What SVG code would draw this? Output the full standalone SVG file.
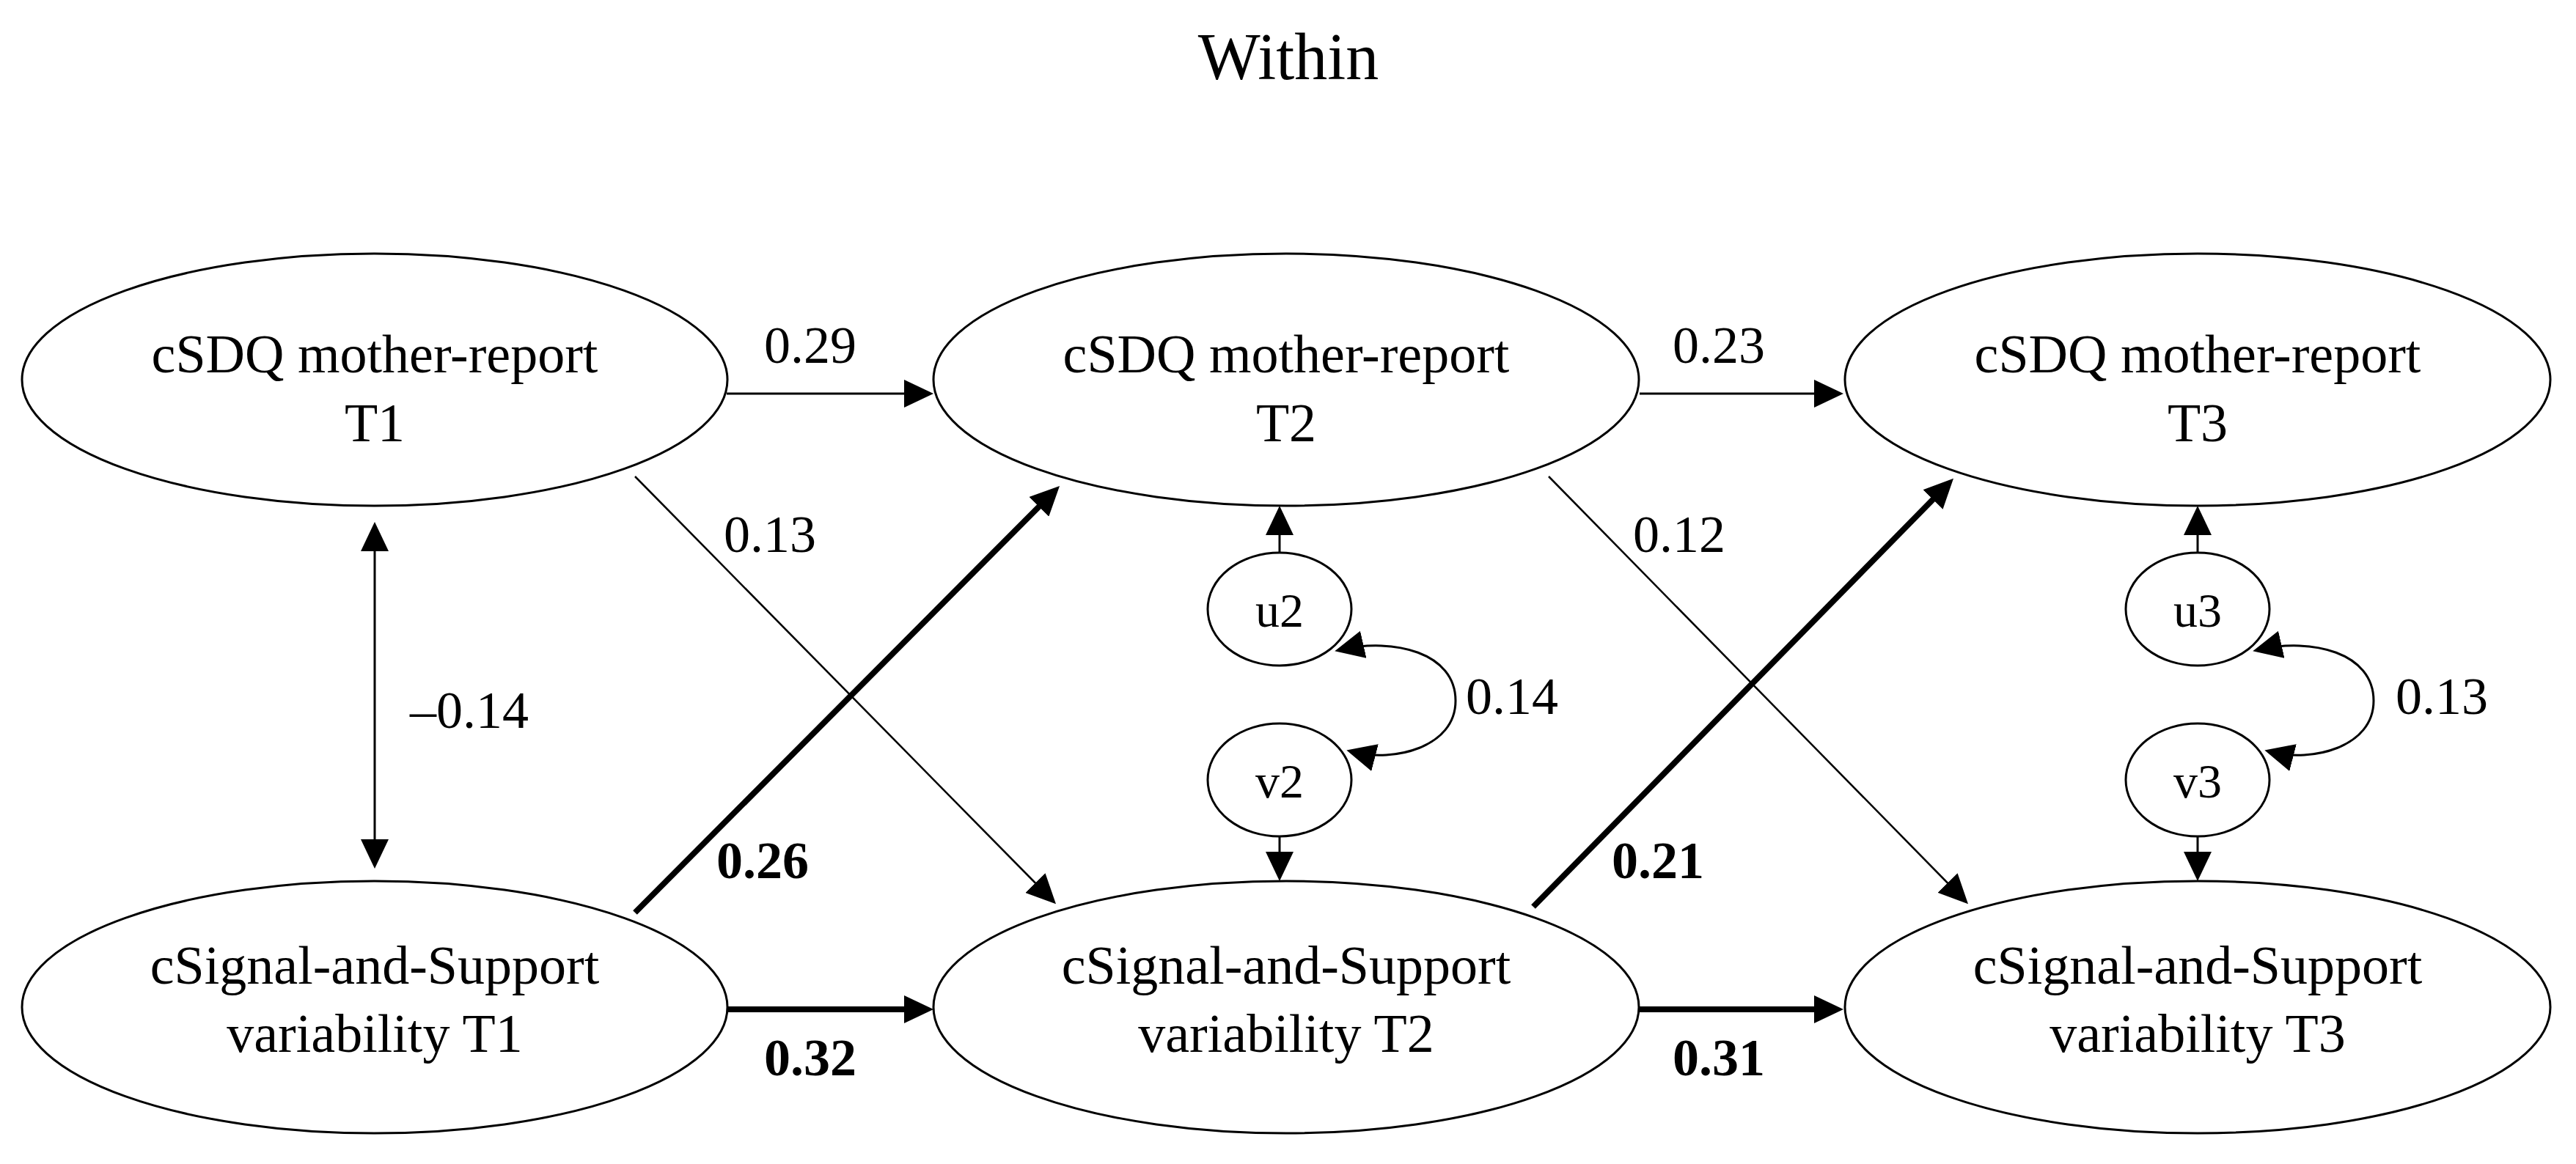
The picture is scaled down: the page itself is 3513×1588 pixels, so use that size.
<svg xmlns="http://www.w3.org/2000/svg" width="3513" height="1588" viewBox="0 0 3513 1588">
<style>
.node{fill:#fff;stroke:#000;stroke-width:3}
.t{font-family:"Liberation Serif","Times New Roman",serif;font-size:74px;text-anchor:middle;fill:#000}
.s{font-family:"Liberation Serif","Times New Roman",serif;font-size:66px;text-anchor:middle;fill:#000}
.lab{font-family:"Liberation Serif","Times New Roman",serif;font-size:72px;text-anchor:middle;fill:#000}
.b{font-weight:bold}
.thin{fill:none;stroke:#000;stroke-width:3}
.thick{fill:none;stroke:#000;stroke-width:8}
</style>
<defs>
<marker id="ah" markerUnits="userSpaceOnUse" viewBox="0 0 40 38" markerWidth="40" markerHeight="38" refX="30" refY="19" orient="auto-start-reverse">
<path d="M0,0 L40,19 L0,38 Z" fill="#000"/>
</marker>
</defs>
<rect width="3513" height="1588" fill="#fff"/>
<text class="t" x="1757" y="108" style="font-size:90px">Within</text>

<g id="connectors">
<path class="thin" d="M991,537 L1263,537" marker-end="url(#ah)"/>
<path class="thin" d="M2236,537 L2504,537" marker-end="url(#ah)"/>
<path class="thick" d="M991,1377 L1263,1377" marker-end="url(#ah)"/>
<path class="thick" d="M2236,1377 L2504,1377" marker-end="url(#ah)"/>
<path class="thin" d="M866,650 L1433,1226" marker-end="url(#ah)" style="stroke-width:2.5"/>
<path class="thin" d="M2112,650 L2677,1226" marker-end="url(#ah)" style="stroke-width:2.5"/>
<path class="thick" d="M866,1245 L1438,670" marker-end="url(#ah)"/>
<path class="thick" d="M2091,1237 L2657,660" marker-end="url(#ah)"/>
<path class="thin" d="M511,722 L511,1175" marker-start="url(#ah)" marker-end="url(#ah)"/>
<path class="thin" d="M1745,754 L1745,700" marker-end="url(#ah)"/>
<path class="thin" d="M1745,1141 L1745,1192" marker-end="url(#ah)"/>
<path class="thin" d="M2997,754 L2997,700" marker-end="url(#ah)"/>
<path class="thin" d="M2997,1141 L2997,1192" marker-end="url(#ah)"/>
<path class="thin" d="M1830,886 C1900,870 1985,890 1985,956 C1985,1020 1900,1040 1846,1026" marker-start="url(#ah)" marker-end="url(#ah)"/>
<path class="thin" d="M3082,886 C3152,870 3237,890 3237,956 C3237,1020 3152,1040 3098,1026" marker-start="url(#ah)" marker-end="url(#ah)"/>
<text class="lab" x="1105" y="495">0.29</text>
<text class="lab" x="2344" y="495">0.23</text>
<text class="lab" x="1050" y="753">0.13</text>
<text class="lab" x="2290" y="753">0.12</text>
<text class="lab" x="640" y="993">–0.14</text>
<text class="lab b" x="1040" y="1198">0.26</text>
<text class="lab b" x="2261" y="1198">0.21</text>
<text class="lab b" x="1105" y="1467">0.32</text>
<text class="lab b" x="2344" y="1467">0.31</text>
<text class="lab" x="2062" y="974">0.14</text>
<text class="lab" x="3330" y="974">0.13</text>
</g>

<g id="sdq1"><ellipse class="node" cx="511" cy="518" rx="481" ry="172"/><text class="t" x="511" y="508">cSDQ mother-report</text><text class="t" x="511" y="602">T1</text></g>
<g id="sdq2"><ellipse class="node" cx="1754" cy="518" rx="481" ry="172"/><text class="t" x="1754" y="508">cSDQ mother-report</text><text class="t" x="1754" y="602">T2</text></g>
<g id="sdq3"><ellipse class="node" cx="2997" cy="518" rx="481" ry="172"/><text class="t" x="2997" y="508">cSDQ mother-report</text><text class="t" x="2997" y="602">T3</text></g>
<g id="sig1"><ellipse class="node" cx="511" cy="1374" rx="481" ry="172"/><text class="t" x="511" y="1342">cSignal-and-Support</text><text class="t" x="511" y="1435">variability T1</text></g>
<g id="sig2"><ellipse class="node" cx="1754" cy="1374" rx="481" ry="172"/><text class="t" x="1754" y="1342">cSignal-and-Support</text><text class="t" x="1754" y="1435">variability T2</text></g>
<g id="sig3"><ellipse class="node" cx="2997" cy="1374" rx="481" ry="172"/><text class="t" x="2997" y="1342">cSignal-and-Support</text><text class="t" x="2997" y="1435">variability T3</text></g>
<g id="u2"><ellipse class="node" cx="1745" cy="831" rx="98" ry="77"/><text class="s" x="1745" y="855">u2</text></g>
<g id="v2"><ellipse class="node" cx="1745" cy="1064" rx="98" ry="77"/><text class="s" x="1745" y="1088">v2</text></g>
<g id="u3"><ellipse class="node" cx="2997" cy="831" rx="98" ry="77"/><text class="s" x="2997" y="855">u3</text></g>
<g id="v3"><ellipse class="node" cx="2997" cy="1064" rx="98" ry="77"/><text class="s" x="2997" y="1088">v3</text></g>
</svg>
